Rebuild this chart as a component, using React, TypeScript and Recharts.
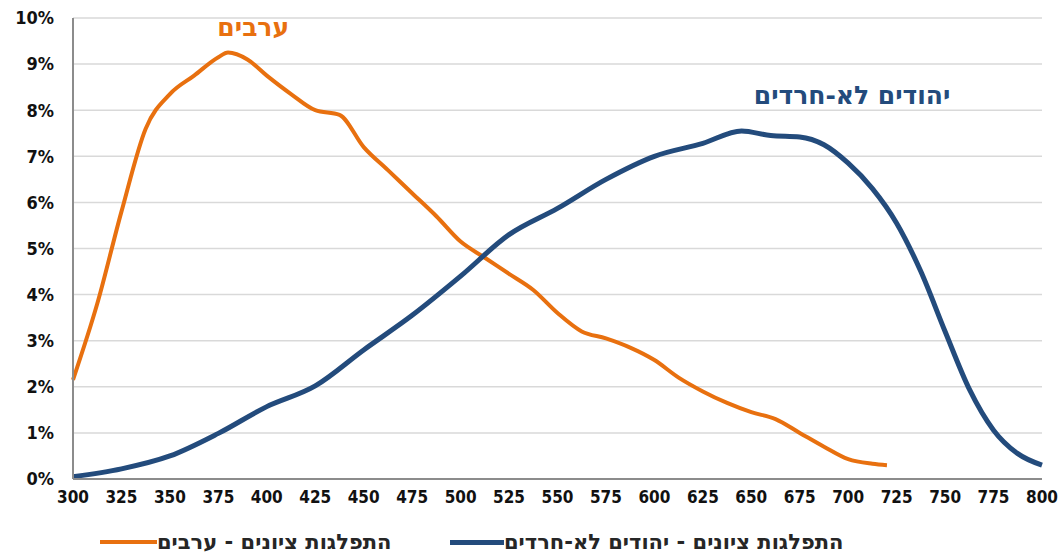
import React from 'react';
import {
    LineChart,
    Line,
    XAxis,
    YAxis,
    CartesianGrid,
    Legend,
    ReferenceDot,
    Label,
} from 'recharts';

// score buckets and share of examinees (%)
const arabScores = [
    300, 312.5, 325, 337.5, 350, 362.5, 375, 380, 390, 400, 412.5, 425, 437.5, 450,
    462.5, 475, 487.5, 500, 512.5, 525, 537.5, 550, 562.5, 575, 587.5, 600, 612.5,
    625, 637.5, 650, 662.5, 675, 687.5, 700, 712.5, 720,
];
const arabShare = [
    2.15, 3.8, 5.8, 7.6, 8.35, 8.75, 9.15, 9.25, 9.1, 8.75, 8.35, 8.0, 7.9, 7.2,
    6.7, 6.2, 5.7, 5.15, 4.8, 4.45, 4.1, 3.6, 3.2, 3.05, 2.85, 2.58, 2.2,
    1.9, 1.65, 1.45, 1.3, 1.0, 0.7, 0.43, 0.33, 0.3,
];

const jewScores = [
    300, 325, 350, 375, 400, 425, 450, 475, 500, 525, 550, 575, 600, 625, 645,
    660, 675, 687.5, 700, 712.5, 725, 737.5, 750, 762.5, 775, 787.5, 800,
];
const jewShare = [
    0.05, 0.22, 0.5, 0.99, 1.57, 2.02, 2.8, 3.55, 4.4, 5.3, 5.87, 6.5, 7.0, 7.28, 7.55,
    7.45, 7.42, 7.25, 6.85, 6.3, 5.55, 4.5, 3.2, 1.95, 1.06, 0.55, 0.3,
];

const xTicks = [
    300, 325, 350, 375, 400, 425, 450, 475, 500, 525, 550, 575, 600, 625, 650, 675,
    700, 725, 750, 775, 800,
];
const yTicks = [0, 1, 2, 3, 4, 5, 6, 7, 8, 9, 10];

const arabLabel = 'ערבים';
const jewLabel = 'יהודים לא-חרדים';
const arabLegend = 'התפלגות ציונים - ערבים';
const jewLegend = 'התפלגות ציונים - יהודים לא-חרדים';

const ORANGE = '#E8700F';
const BLUE = '#234B7C';
const FONT = '"DejaVu Sans Condensed", "DejaVu Sans", sans-serif';
const WIDE = '"DejaVu Sans", sans-serif';

const arabData = arabScores.map((s, i) => ({ score: s, share: arabShare[i] }));
const jewData = jewScores.map((s, i) => ({ score: s, share: jewShare[i] }));

// legend wrapper sits at the chart's left margin, so offsets are relative to x=13
const LegendBox = () => (
    <div
        style={{
            position: 'relative',
            height: 24,
            fontFamily: WIDE,
            fontWeight: 'bold',
            fontSize: 21,
            lineHeight: '24px',
            color: '#262626',
            whiteSpace: 'nowrap',
        }}
    >
        <span style={{ position: 'absolute', left: 87, top: 10, width: 57, height: 4, background: ORANGE }} />
        <span style={{ position: 'absolute', left: 144, top: 0 }}>{arabLegend}</span>
        <span style={{ position: 'absolute', left: 437, top: 10, width: 54, height: 5, background: BLUE }} />
        <span style={{ position: 'absolute', left: 491, top: 0 }}>{jewLegend}</span>
    </div>
);

const App = () => {
    return (
        <div style={{ position: 'absolute', left: 0, top: 0, background: '#fff' }}>
            <LineChart
                width={1062}
                height={555}
                margin={{ top: 18, right: 20, left: 13, bottom: 1 }}
            >
                <CartesianGrid vertical={false} stroke="#d9d9d9" strokeWidth={1.5} />
                <XAxis
                    dataKey="score"
                    type="number"
                    domain={[300, 800]}
                    ticks={xTicks}
                    allowDuplicatedCategory={false}
                    stroke="#8c8c8c"
                    strokeWidth={2}
                    tickLine={false}
                    tickMargin={6}
                    height={51}
                    tick={{ fontSize: 17, fontWeight: 'bold', fill: '#111', fontFamily: FONT }}
                />
                <YAxis
                    type="number"
                    domain={[0, 10]}
                    ticks={yTicks}
                    tickFormatter={(v) => `${v}%`}
                    stroke="#8c8c8c"
                    strokeWidth={2}
                    tickLine={false}
                    tickMargin={13}
                    width={60}
                    tick={{ fontSize: 18, fontWeight: 'bold', fill: '#111', fontFamily: FONT }}
                />
                <Legend verticalAlign="bottom" content={() => <LegendBox />} />
                <Line
                    data={arabData}
                    dataKey="share"
                    type="monotone"
                    stroke={ORANGE}
                    strokeWidth={4}
                    dot={false}
                    name={arabLegend}
                    isAnimationActive={false}
                />
                <Line
                    data={jewData}
                    dataKey="share"
                    type="monotone"
                    stroke={BLUE}
                    strokeWidth={5}
                    dot={false}
                    name={jewLegend}
                    isAnimationActive={false}
                />
                <ReferenceDot x={393} y={9.8} r={1} fillOpacity={0} stroke="none">
                    <Label
                        value={arabLabel}
                        position="center"
                        fill={ORANGE}
                        fontSize={25}
                        fontWeight="bold"
                        fontFamily={WIDE}
                    />
                </ReferenceDot>
                <ReferenceDot x={702} y={8.33} r={1} fillOpacity={0} stroke="none">
                    <Label
                        value={jewLabel}
                        position="center"
                        fill={BLUE}
                        fontSize={25}
                        fontWeight="bold"
                        fontFamily={WIDE}
                    />
                </ReferenceDot>
            </LineChart>
        </div>
    );
};

export default App;
